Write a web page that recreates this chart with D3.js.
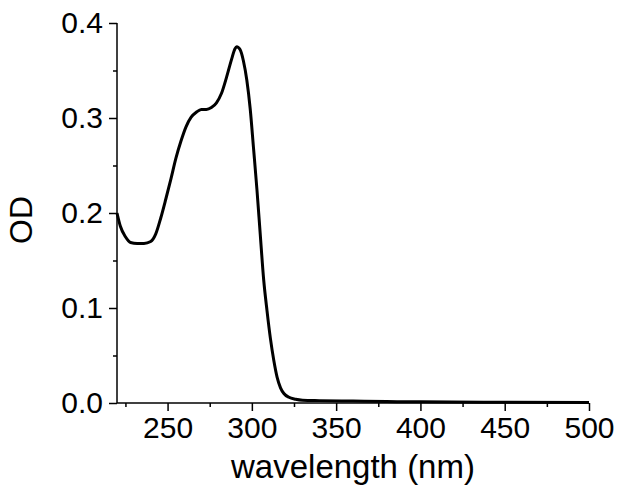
<!DOCTYPE html>
<html>
<head>
<meta charset="utf-8">
<script src="https://cdn.jsdelivr.net/npm/d3@7"></script>
<style>
    html, body { margin: 0; padding: 0; background: #fff; }
    svg { display: block; }
</style>
</head>
<body>
<div id="chart"></div>
<script>
// Absorption spectrum
const wavelengths = [220, 222, 225, 228, 232, 236, 240, 243, 246, 249, 252, 255, 258, 261, 264, 267,
    270, 273, 276, 279, 282, 285, 288, 290, 291, 293, 295, 297, 299, 301, 303, 305, 307, 309, 311,
    313, 315, 317, 319, 322, 326, 330, 340, 360, 380, 400, 450, 500];
const odValues = [0.200, 0.186, 0.175, 0.169, 0.168, 0.168, 0.170, 0.178, 0.195, 0.215, 0.236, 0.258,
    0.276, 0.291, 0.301, 0.306, 0.309, 0.309, 0.311, 0.316, 0.326, 0.343, 0.362, 0.373, 0.375, 0.372,
    0.360, 0.340, 0.310, 0.268, 0.225, 0.177, 0.130, 0.097, 0.068, 0.045, 0.027, 0.016, 0.010, 0.006,
    0.004, 0.003, 0.0025, 0.002, 0.0015, 0.0012, 0.0008, 0.0005];

const xTicks = [250, 300, 350, 400, 450, 500];
const xMinorTicks = [225, 275, 325, 375, 425, 475];
const yTicks = [0.0, 0.1, 0.2, 0.3, 0.4];
const yMinorTicks = [0.05, 0.15, 0.25, 0.35];

const width = 624;
const height = 494;
const margin = { top: 23, right: 35, bottom: 91, left: 117 };
const font = "Liberation Sans, Arial, sans-serif";

const svg = d3.select('#chart')
    .append('svg')
    .attr('width', width)
    .attr('height', height);

const x = d3.scaleLinear()
    .domain([220, 500])
    .range([margin.left, width - margin.right]);

const y = d3.scaleLinear()
    .domain([0, 0.4])
    .range([height - margin.bottom, margin.top]);

const data = wavelengths.map((w, i) => ({ w: w, od: odValues[i] }));

// axes: major ticks labelled, minor ticks shorter
const xAxis = svg.append('g')
    .attr('transform', `translate(0,${y(0)})`)
    .call(d3.axisBottom(x).tickValues(xTicks).tickSize(8).tickPadding(6).tickFormat(d3.format('d')));

svg.append('g')
    .attr('transform', `translate(0,${y(0)})`)
    .call(d3.axisBottom(x).tickValues(xMinorTicks).tickSize(4).tickFormat(''))
    .call(g => g.select('.domain').remove());

const yAxis = svg.append('g')
    .attr('transform', `translate(${x(220)},0)`)
    .call(d3.axisLeft(y).tickValues(yTicks).tickSize(8).tickPadding(6).tickFormat(d3.format('.1f')));

svg.append('g')
    .attr('transform', `translate(${x(220)},0)`)
    .call(d3.axisLeft(y).tickValues(yMinorTicks).tickSize(4).tickFormat(''))
    .call(g => g.select('.domain').remove());

// plain axis lines, no end caps
xAxis.select('.domain').attr('d', `M${x(220)},0H${x(500)}`);
yAxis.select('.domain').attr('d', `M0,${y(0)}V${y(0.4)}`);

svg.selectAll('.domain, .tick line')
    .attr('stroke', '#000')
    .attr('stroke-width', 1.5);

svg.selectAll('.tick text')
    .attr('font-family', font)
    .attr('font-size', 30)
    .attr('fill', '#000');

// spectrum
const line = d3.line()
    .x(d => x(d.w))
    .y(d => y(d.od))
    .curve(d3.curveMonotoneX);

svg.append('path')
    .datum(data)
    .attr('fill', 'none')
    .attr('stroke', '#000')
    .attr('stroke-width', 3)
    .attr('stroke-linejoin', 'round')
    .attr('d', line);

// axis titles
svg.append('text')
    .attr('x', (x(220) + x(500)) / 2)
    .attr('y', 478)
    .attr('text-anchor', 'middle')
    .attr('font-family', font)
    .attr('font-size', 33)
    .text('wavelength (nm)');

svg.append('text')
    .attr('transform', `translate(32,${y(0.2) + 7}) rotate(-90)`)
    .attr('text-anchor', 'middle')
    .attr('font-family', font)
    .attr('font-size', 32)
    .text('OD');
</script>
</body>
</html>
